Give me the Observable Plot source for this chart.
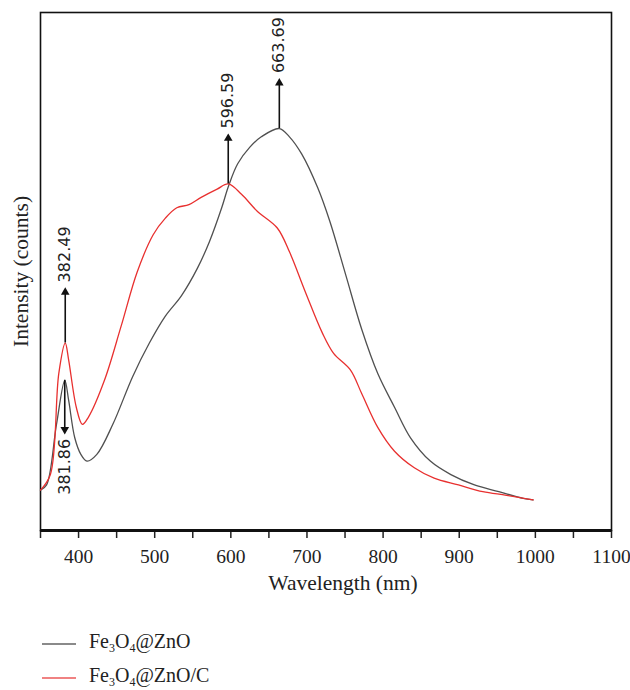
<!DOCTYPE html>
<html><head><meta charset="utf-8">
<script src="https://cdn.jsdelivr.net/npm/d3@7"></script>
<script src="https://cdn.jsdelivr.net/npm/@observablehq/plot@0.6"></script>
<style>
body{margin:0;background:#fff;}
svg{display:block;}
#legend{position:relative;height:80px;font-family:"Liberation Serif",serif;font-size:20px;line-height:20px;color:#222;}
.row{position:absolute;left:0;height:20px;white-space:nowrap;}
.sw{position:absolute;left:42px;top:12px;width:34px;height:2px;}
.lab{position:absolute;left:89px;top:0;}
sub{font-size:12px;vertical-align:-4px;line-height:0;}
</style></head><body>
<div id="chart"></div>
<div id="legend"></div>
<script>
// Fe3O4@ZnO (grey)
const wlGrey  = [350,358,371,381.9,387,395,403,411,424,445,471,493,514,535,556,572,588,597,609,625,640,663.7,677,693,714,730,751,772,793,815,836,862,889,920,952,984,997];
const intGrey = [7.8,8.8,20.5,29.0,25.1,17.9,14.7,13.4,14.7,20.5,29.7,36.2,41.4,45.3,50.6,55.8,62.3,66.5,70.8,74.0,76.0,77.6,76.0,72.7,66.2,59.7,49.3,38.8,30.3,23.8,17.9,13.4,10.8,8.8,7.5,6.2,5.9];
// Fe3O4@ZnO/C (red)
const wlRed  = [350,363,374,382.5,387,397,405,413,434,456,477,498,514,529,545,561,582,596.6,614,635,661,677,698,720,735,757,772,793,815,841,867,899,931,962,997];
const intRed = [7.8,10.8,30.3,36.2,32.9,23.8,20.5,21.9,29.0,39.5,49.9,57.1,60.3,62.3,62.9,64.3,65.9,66.9,64.9,61.6,58.4,53.8,46.0,38.2,34.2,31.0,26.4,19.9,15.3,12.1,10.1,8.8,7.5,6.8,5.9];
// peak annotations
const peakLabels = ["382.49","381.86","596.59","663.69"];
const peakX      = [382.49, 381.86, 596.59, 663.69];
const peakFrom   = [36.2, 29.0, 66.9, 77.6];
const peakTo     = [46.0, 19.5, 75.7, 86.4];
const peakUp     = [true, false, true, true];
const xTicks = [400,500,600,700,800,900,1000,1100];
const xMinor = [350,450,550,650,750,850,950,1050];
const seriesNames = ["Fe3O4@ZnO","Fe3O4@ZnO/C"];
const seriesColors = ["#505050","#e8302f"];
const legendColors = ["#8a8a8a","#f08282"];

const grey = wlGrey.map((x,i)=>({x, y:intGrey[i]}));
const red = wlRed.map((x,i)=>({x, y:intRed[i]}));
const ann = peakX.map((x,i)=>({x, y1:peakFrom[i], y2:peakTo[i], up:peakUp[i], label:peakLabels[i],
  ly: peakUp[i] ? peakTo[i]+1.9 : peakTo[i]-1.8}));
const up = ann.filter(d=>d.up), down = ann.filter(d=>!d.up);

const plot = Plot.plot({
  width: 630, height: 610,
  marginLeft: 40, marginRight: 19, marginTop: 12, marginBottom: 80,
  x: {domain:[350,1100]},
  y: {domain:[0,100]},
  style: {fontFamily:"Liberation Serif, serif", fontSize:"19px", color:"#222"},
  marks: [
    Plot.axisX({ticks: xTicks, tickSize: 8, tickPadding: 11, label: null, fontSize: 19.5, tickFormat: d=>String(d), strokeWidth: 1.5}),
    Plot.axisX({ticks: xMinor, tickSize: 8, tickFormat: ()=>"", label: null, strokeWidth: 1.5}),
    Plot.axisY({ticks: [], label: null}),
    Plot.frame({stroke:"#111", strokeWidth:1.6}),
    Plot.ruleY([0], {stroke:"#111", strokeWidth:3}),
    Plot.line(grey, {x:"x", y:"y", stroke: seriesColors[0], strokeWidth:1.3, curve:"catmull-rom"}),
    Plot.line(red, {x:"x", y:"y", stroke: seriesColors[1], strokeWidth:1.3, curve:"catmull-rom"}),
    Plot.ruleX(ann, {x:"x", y1:"y1", y2:"y2", stroke:"#111", strokeWidth:1.6}),
    Plot.dot(up, {x:"x", y:"y2", symbol:"triangle", r:3.2, fill:"#111", stroke:null}),
    Plot.dot(down, {x:"x", y:"y2", symbol:"triangle", r:3.2, fill:"#111", stroke:null, rotate:180}),
    Plot.text(up, {x:"x", y:"ly", text:"label", rotate:-90, textAnchor:"start", fontSize:16, fontFamily:"DejaVu Sans, sans-serif", fill:"#222"}),
    Plot.text(down, {x:"x", y:"ly", text:"label", rotate:-90, textAnchor:"end", fontSize:16, fontFamily:"DejaVu Sans, sans-serif", fill:"#222"}),
    Plot.text(["Intensity (counts)"], {frameAnchor:"left", rotate:-90, textAnchor:"middle", dx:-19, fontSize:21.5, fill:"#222"}),
    Plot.text(["Wavelength (nm)"], {frameAnchor:"bottom", dy:59, dx:17, fontSize:21.5, fill:"#222"})
  ]
});
document.getElementById("chart").appendChild(plot);

const leg = document.getElementById("legend");
const rowTops = [21, 55];
seriesNames.forEach((n,i)=>{
  const row = document.createElement("div"); row.className="row"; row.style.top = rowTops[i]+"px";
  const sw = document.createElement("div"); sw.className="sw"; sw.style.background = legendColors[i];
  const t = document.createElement("span"); t.className="lab";
  t.innerHTML = n.replace(/(\d)/g, "<sub>$1</sub>");
  row.appendChild(sw); row.appendChild(t); leg.appendChild(row);
});
</script>
</body></html>
